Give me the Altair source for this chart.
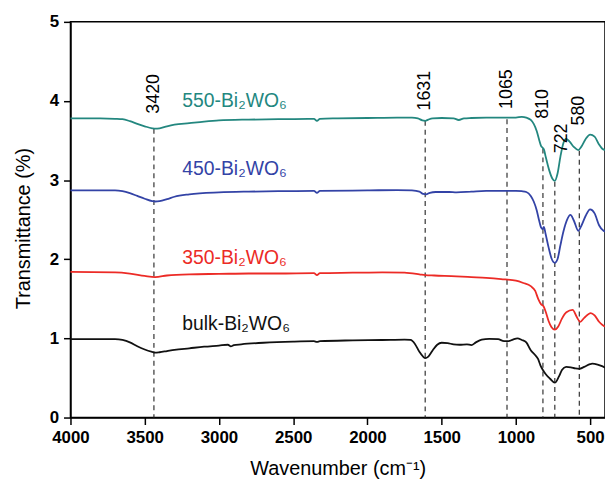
import altair as alt
import pandas as pd

series_names = ["550-Bi₂WO₆", "450-Bi₂WO₆", "350-Bi₂WO₆", "bulk-Bi₂WO₆"]
series_colors = ["#23877f", "#3343a6", "#ec2b26", "#111111"]

wn_550 = [4000, 3800, 3700, 3650, 3600, 3550, 3500, 3450, 3430, 3400, 3350, 3300, 3200, 3100, 3000, 2800, 2600, 2400,
          2360, 2340, 2320, 2200, 2000, 1800, 1700, 1660, 1630, 1610, 1590, 1560, 1500, 1420, 1385, 1350, 1300, 1200,
          1100, 1000, 960, 930, 900, 880, 860, 845, 830, 820, 810, 800, 775, 755, 738, 720, 700, 680, 662, 640, 610,
          580, 560, 530, 500, 470, 440, 420, 400]
t_550 = [3.78, 3.78, 3.775, 3.77, 3.745, 3.71, 3.68, 3.655, 3.65, 3.655, 3.68, 3.70, 3.72, 3.74, 3.755, 3.765, 3.77, 3.775,
         3.775, 3.75, 3.775, 3.78, 3.785, 3.79, 3.79, 3.78, 3.755, 3.75, 3.765, 3.78, 3.785, 3.78, 3.76, 3.78, 3.785, 3.79,
         3.79, 3.79, 3.80, 3.79, 3.76, 3.71, 3.62, 3.52, 3.43, 3.41, 3.38, 3.30, 3.12, 3.02, 2.99, 3.08, 3.30, 3.47, 3.52,
         3.49, 3.42, 3.38, 3.42, 3.52, 3.575, 3.55, 3.45, 3.40, 3.38]

wn_450 = [4000, 3700, 3650, 3600, 3550, 3500, 3450, 3430, 3400, 3350, 3300, 3200, 3000, 2800, 2600, 2360, 2340, 2320,
          2000, 1800, 1700, 1650, 1625, 1605, 1580, 1540, 1450, 1400, 1300, 1200, 1100, 1000, 960, 930, 900, 880, 860,
          845, 830, 820, 812, 800, 780, 760, 738, 720, 700, 680, 655, 633, 610, 580, 560, 530, 500, 470, 440, 410, 400]
t_450 = [2.87, 2.87, 2.86, 2.835, 2.80, 2.765, 2.735, 2.73, 2.735, 2.76, 2.79, 2.82, 2.845, 2.855, 2.86, 2.865, 2.84, 2.865,
         2.87, 2.875, 2.87, 2.855, 2.825, 2.82, 2.84, 2.85, 2.85, 2.845, 2.855, 2.865, 2.865, 2.865, 2.86, 2.85, 2.80, 2.73,
         2.62, 2.50, 2.40, 2.38, 2.41, 2.32, 2.15, 2.01, 1.955, 2.00, 2.18, 2.35, 2.50, 2.56, 2.49, 2.36, 2.42, 2.55, 2.63,
         2.58, 2.43, 2.36, 2.35]

wn_350 = [4000, 3700, 3600, 3500, 3430, 3350, 3200, 3000, 2800, 2600, 2360, 2340, 2320, 2100, 1900, 1750, 1650, 1610,
          1550, 1400, 1300, 1200, 1100, 1000, 950, 900, 870, 850, 830, 815, 800, 780, 760, 738, 715, 690, 660, 618, 590,
          567, 540, 496, 470, 440, 410, 400]
t_350 = [1.84, 1.835, 1.82, 1.79, 1.775, 1.795, 1.81, 1.815, 1.82, 1.82, 1.825, 1.80, 1.825, 1.83, 1.835, 1.83, 1.81, 1.80,
         1.795, 1.785, 1.775, 1.765, 1.75, 1.73, 1.70, 1.66, 1.60, 1.50, 1.43, 1.41, 1.34, 1.22, 1.14, 1.11, 1.15, 1.25,
         1.33, 1.36, 1.27, 1.21, 1.26, 1.32, 1.29, 1.21, 1.16, 1.15]

wn_bulk = [4000, 3800, 3700, 3650, 3600, 3550, 3500, 3450, 3430, 3400, 3350, 3300, 3200, 3100, 3000, 2940, 2920, 2900,
           2850, 2700, 2500, 2360, 2340, 2320, 2100, 1900, 1750, 1710, 1680, 1650, 1625, 1610, 1590, 1560, 1530, 1500,
           1460, 1420, 1380, 1330, 1300, 1270, 1230, 1180, 1120, 1080, 1050, 1020, 990, 960, 930, 900, 875, 851, 835,
           818, 800, 770, 738, 710, 690, 662, 630, 600, 573, 540, 500, 487, 450, 420, 400]
t_bulk = [0.99, 0.99, 0.99, 0.98, 0.95, 0.90, 0.86, 0.83, 0.82, 0.825, 0.84, 0.855, 0.875, 0.895, 0.91, 0.92, 0.90, 0.915,
          0.925, 0.945, 0.96, 0.965, 0.955, 0.965, 0.975, 0.98, 0.985, 0.98, 0.93, 0.83, 0.77, 0.75, 0.77, 0.85, 0.92, 0.945,
          0.94, 0.925, 0.92, 0.925, 0.915, 0.95, 0.985, 0.995, 0.99, 0.965, 0.965, 0.985, 1.0, 0.98, 0.95, 0.85, 0.80, 0.74,
          0.66, 0.60, 0.55, 0.49, 0.44, 0.52, 0.60, 0.64, 0.635, 0.62, 0.615, 0.64, 0.675, 0.68, 0.67, 0.65, 0.63]

# series label positions (left start, baseline)
label_wn = [3247, 3247, 3247, 3247]
label_t = [3.93, 3.06, 1.935, 1.11]

# peak markers
peak_text = ["3420", "1631", "1065", "810", "722", "580"]
peak_line_wn = [3438, 1611, 1060, 818, 738, 573]
peak_line_top = [3.65, 3.75, 3.77, 3.40, 2.98, 3.37]
peak_text_wn = [3438, 1611, 1060, 818, 690, 573]
peak_text_t = [3.84, 3.88, 3.90, 3.775, 3.34, 3.69]

x_ticks = [4000, 3750, 3500, 3250, 3000, 2750, 2500, 2250, 2000, 1750, 1500, 1250, 1000, 750, 500]
y_ticks = [0, 0.5, 1, 1.5, 2, 2.5, 3, 3.5, 4, 4.5, 5]

rows = []
for name, wns, ts in [(series_names[0], wn_550, t_550), (series_names[1], wn_450, t_450),
                      (series_names[2], wn_350, t_350), (series_names[3], wn_bulk, t_bulk)]:
    for w, t in zip(wns, ts):
        rows.append({"wn": w, "T": t, "series": name})
df = pd.DataFrame(rows)

labels_df = pd.DataFrame({"wn": label_wn, "T": label_t, "series": series_names})
peaks_df = pd.DataFrame({"wn": peak_line_wn, "top": peak_line_top, "zero": [0] * len(peak_line_wn)})
peak_lab_df = pd.DataFrame({"wn": peak_text_wn, "T": peak_text_t, "label": peak_text})

xscale = alt.Scale(domain=[400, 4000], reverse=True, nice=False, zero=False)
yscale = alt.Scale(domain=[0, 5], nice=False)
cscale = alt.Scale(domain=series_names, range=series_colors)

x_axis = alt.Axis(values=x_ticks, labelExpr="datum.value % 500 === 0 ? format(datum.value, 'd') : ''",
                  labelFontWeight="bold", labelFontSize=17, labelFlush=False,
                  tickSize={"condition": {"test": "datum.value % 500 === 0", "value": 7}, "value": 4},
                  tickWidth=1.5, domainWidth=1.5, domainColor="black", tickColor="black",
                  labelColor="black", labelPadding=5, grid=False, labelOverlap=False,
                  title="Wavenumber (cm⁻¹)", titleFontSize=20, titleFontWeight="normal",
                  titlePadding=13, titleColor="black")
y_axis = alt.Axis(values=y_ticks, labelExpr="datum.value % 1 === 0 ? format(datum.value, 'd') : ''",
                  labelFontWeight="bold", labelFontSize=17, labelFlush=False,
                  tickSize={"condition": {"test": "datum.value % 1 === 0", "value": 7}, "value": 4},
                  tickWidth=1.5, domainWidth=1.5, domainColor="black", tickColor="black",
                  labelColor="black", labelPadding=5, grid=False, labelOverlap=False,
                  title="Transmittance (%)", titleFontSize=20, titleFontWeight="normal",
                  titlePadding=16, titleY=208, titleColor="black")

lines = alt.Chart(df).mark_line(strokeWidth=1.8, interpolate="monotone").encode(
    x=alt.X("wn:Q", scale=xscale, axis=x_axis),
    y=alt.Y("T:Q", scale=yscale, axis=y_axis),
    color=alt.Color("series:N", scale=cscale, legend=None),
    detail="series:N",
)

rules = alt.Chart(peaks_df).mark_rule(strokeDash=[5, 4], strokeWidth=1.2, color="#333333").encode(
    x=alt.X("wn:Q", scale=xscale),
    y=alt.Y("top:Q", scale=yscale),
    y2="zero:Q",
)

series_labels = alt.Chart(labels_df).mark_text(align="left", baseline="alphabetic", fontSize=19.5,
                                                font="Liberation Sans").encode(
    x=alt.X("wn:Q", scale=xscale),
    y=alt.Y("T:Q", scale=yscale),
    text="series:N",
    color=alt.Color("series:N", scale=cscale, legend=None),
)

peak_labels = alt.Chart(peak_lab_df).mark_text(align="left", baseline="middle", angle=270, fontSize=18,
                                                color="black", font="Liberation Sans").encode(
    x=alt.X("wn:Q", scale=xscale),
    y=alt.Y("T:Q", scale=yscale),
    text="label:N",
)

chart = alt.layer(rules, lines, series_labels, peak_labels).properties(
    width=539, height=399,
    padding={"left": 63, "top": 12, "right": 0, "bottom": 60},
    autosize=alt.AutoSizeParams(type="none"),
).configure(font="Liberation Sans").configure_view(stroke="black", strokeWidth=1.5)

chart.save("out.html", embed_options={"renderer": "svg", "actions": False})
